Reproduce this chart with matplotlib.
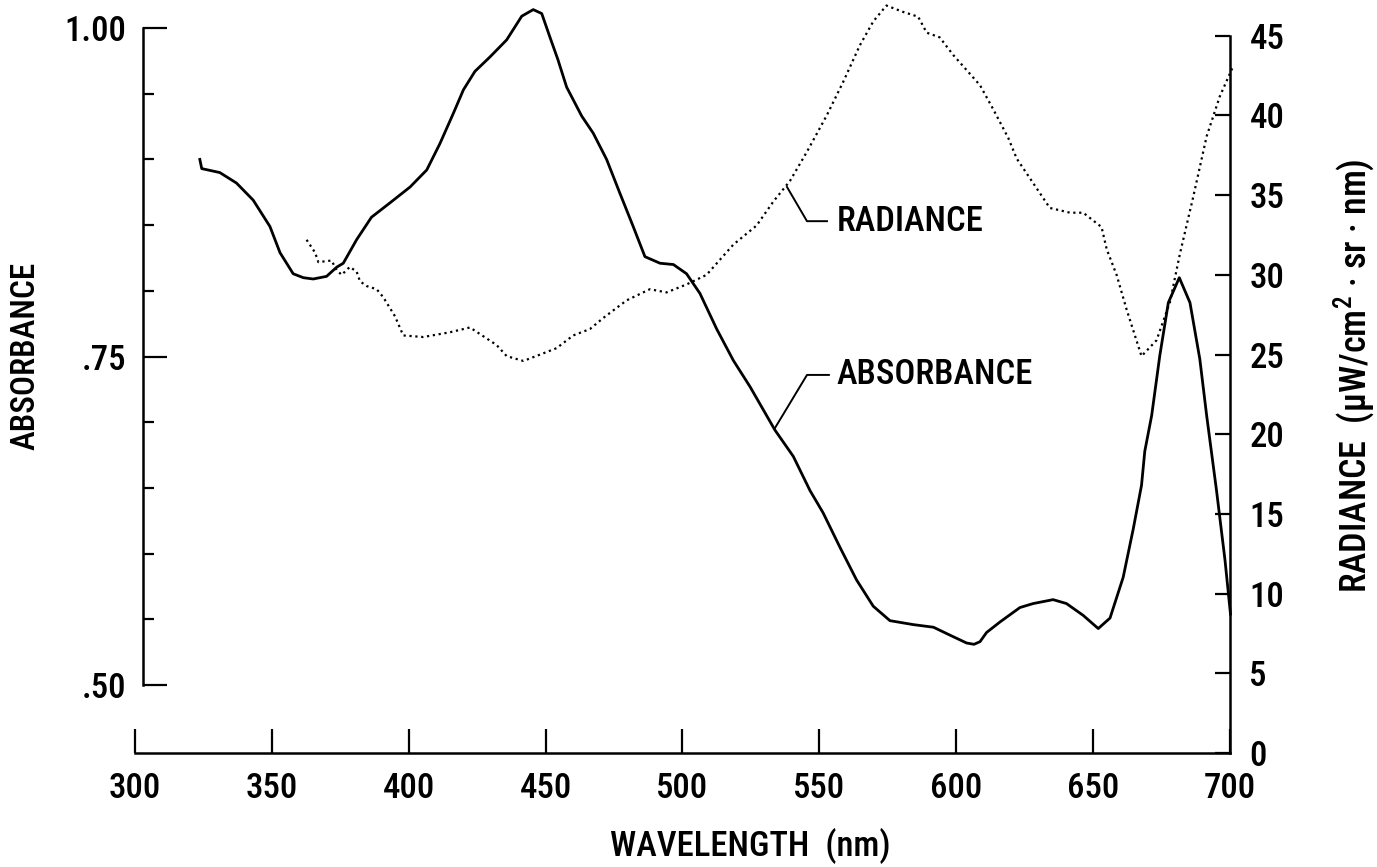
import numpy as np
import matplotlib
matplotlib.use("Agg")
import matplotlib.pyplot as plt

plt.rcParams['font.family'] = ['Roboto Condensed', 'DejaVu Sans']
plt.rcParams['font.weight'] = 500
plt.rcParams['axes.labelweight'] = 500
plt.rcParams['mathtext.fontset'] = 'custom'
plt.rcParams['mathtext.rm'] = 'Roboto Condensed:medium'
plt.rcParams['mathtext.default'] = 'regular'

# Absorbance spectrum (left axis)
abs_nm = [323.7, 324.4, 331.0, 337.1, 343.2, 349.3, 353.0, 357.8, 361.5, 365.1,
          370.0, 373.7, 376.1, 381.0, 386.4, 393.2, 400.5, 406.6, 411.4, 416.3,
          420.0, 424.2, 429.7, 435.8, 441.3, 445.5, 448.6, 451.6, 454.5, 457.7,
          463.2, 467.4, 472.3, 477.2, 482.0, 486.3, 491.8, 496.7, 501.5, 506.4,
          512.5, 518.6, 524.7, 533.8, 540.5, 546.6, 551.4, 557.5, 563.6, 569.7,
          575.8, 584.3, 591.7, 597.7, 603.8, 606.5, 608.7, 611.1, 616.0, 623.3,
          628.1, 635.4, 640.3, 646.4, 651.9, 656.2, 661.0, 664.7, 667.7, 668.9,
          671.4, 674.4, 677.5, 681.5, 685.4, 689.0, 691.5, 695.1, 698.2, 700.2]
absorbance = [0.900, 0.893, 0.890, 0.882, 0.869, 0.849, 0.829, 0.813, 0.810, 0.809,
              0.811, 0.818, 0.821, 0.839, 0.856, 0.867, 0.879, 0.892, 0.912, 0.935,
              0.953, 0.967, 0.978, 0.991, 1.009, 1.014, 1.011, 0.993, 0.976, 0.955,
              0.933, 0.920, 0.900, 0.874, 0.849, 0.826, 0.821, 0.820, 0.813, 0.798,
              0.771, 0.747, 0.727, 0.694, 0.674, 0.648, 0.631, 0.605, 0.580, 0.560,
              0.549, 0.546, 0.544, 0.538, 0.532, 0.531, 0.533, 0.540, 0.548, 0.559,
              0.562, 0.565, 0.562, 0.553, 0.543, 0.551, 0.582, 0.619, 0.652, 0.678,
              0.705, 0.751, 0.791, 0.810, 0.791, 0.748, 0.705, 0.648, 0.595, 0.554]

# Radiance spectrum (right axis)
rad_nm = [362.7, 365.8, 367.0, 371.8, 373.7, 375.5, 378.5, 381.0, 382.2, 384.6,
          388.3, 390.7, 395.0, 398.0, 405.3, 415.1, 422.4, 432.1, 435.8, 441.9,
          448.0, 454.0, 460.1, 466.2, 471.1, 479.6, 488.1, 494.2, 501.5, 508.8,
          518.6, 527.1, 533.2, 539.3, 545.4, 552.7, 558.7, 564.8, 569.7, 574.5,
          580.6, 586.1, 589.2, 594.0, 598.9, 608.7, 613.5, 619.0, 622.1, 634.2,
          641.6, 646.4, 653.1, 655.0, 658.6, 662.3, 667.7, 673.2, 678.1, 681.7,
          686.6, 691.5, 696.3, 701.2]
radiance = [32.2, 31.4, 30.8, 30.9, 30.3, 30.0, 30.5, 30.2, 29.6, 29.3,
            29.1, 28.6, 27.4, 26.2, 26.1, 26.4, 26.7, 25.6, 24.9, 24.6,
            25.0, 25.4, 26.2, 26.6, 27.3, 28.4, 29.1, 28.9, 29.4, 30.0,
            31.9, 33.1, 34.6, 35.9, 37.7, 40.0, 42.1, 44.4, 45.9, 46.9,
            46.5, 46.2, 45.2, 44.9, 43.8, 41.9, 40.4, 38.6, 37.3, 34.2,
            33.9, 33.9, 33.0, 31.6, 30.0, 27.8, 24.9, 25.9, 28.3, 31.3,
            34.9, 38.7, 41.2, 43.1]

fig = plt.figure(figsize=(13.77, 8.67), dpi=100)
ax = fig.add_axes([0.098, 0.1315, 0.7952, 0.8362])
ax2 = ax.twinx()

ax.plot(abs_nm, absorbance, color='black', lw=2.0, clip_on=False)
ax2.plot(rad_nm, radiance, color='black', lw=1.6, ls=':', clip_on=False)

ax.set_xlim(300, 700)
ax.set_ylim(0.4483, 1.0)
ax2.set_ylim(0, 45.49)

# spines
for s in ['top', 'right']:
    ax.spines[s].set_visible(False)
for s in ['top', 'left', 'bottom']:
    ax2.spines[s].set_visible(False)
ax.spines['left'].set_position(('data', 303))
ax.spines['left'].set_bounds(0.5, 1.0)
ax.spines['bottom'].set_bounds(300, 700)
ax2.spines['right'].set_bounds(0, 45)
for sp in [ax.spines['left'], ax.spines['bottom'], ax2.spines['right']]:
    sp.set_linewidth(1.8)

# ticks
ax.set_xticks(np.arange(300, 701, 50))
ax.tick_params(axis='x', direction='in', length=17, width=1.6, pad=14, labelsize=25)
ax.set_yticks([0.5, 0.75, 1.0])
ax.set_yticklabels(['.50', '.75', '1.00'])
ax.set_yticks(np.arange(0.5, 1.001, 0.05), minor=True)
ax.tick_params(axis='y', which='major', direction='in', length=17, width=1.6, pad=12, labelsize=25)
ax.tick_params(axis='y', which='minor', direction='in', length=8, width=1.6)
ax2.set_yticks(np.arange(0, 46, 5))
ax2.tick_params(axis='y', direction='in', length=11, width=1.6, pad=14, labelsize=25)

ax.set_xlabel('WAVELENGTH  (nm)', fontsize=25, ha='left')
ax.xaxis.set_label_coords(0.434, -0.104)
ax.set_ylabel('ABSORBANCE', fontsize=24)
ax.yaxis.set_label_coords(-0.085, 0.548)
ax2.set_ylabel(r'RADIANCE  (µW/cm$^{2}$ · sr · nm)', fontsize=26)
ax2.yaxis.set_label_coords(1.093, 0.521)

# curve labels with leader lines
ax.plot([538.2, 545.5, 552.8], [0.879, 0.853, 0.853], color='black', lw=1.4, clip_on=False)
ax.text(556.4, 0.853, 'RADIANCE', fontsize=25, va='center', ha='left')
ax.plot([533.8, 545.5, 553.5], [0.6956, 0.736, 0.736], color='black', lw=1.4, clip_on=False)
ax.text(556.4, 0.736, 'ABSORBANCE', fontsize=25, va='center', ha='left')

fig.savefig('out.png', dpi=100)
